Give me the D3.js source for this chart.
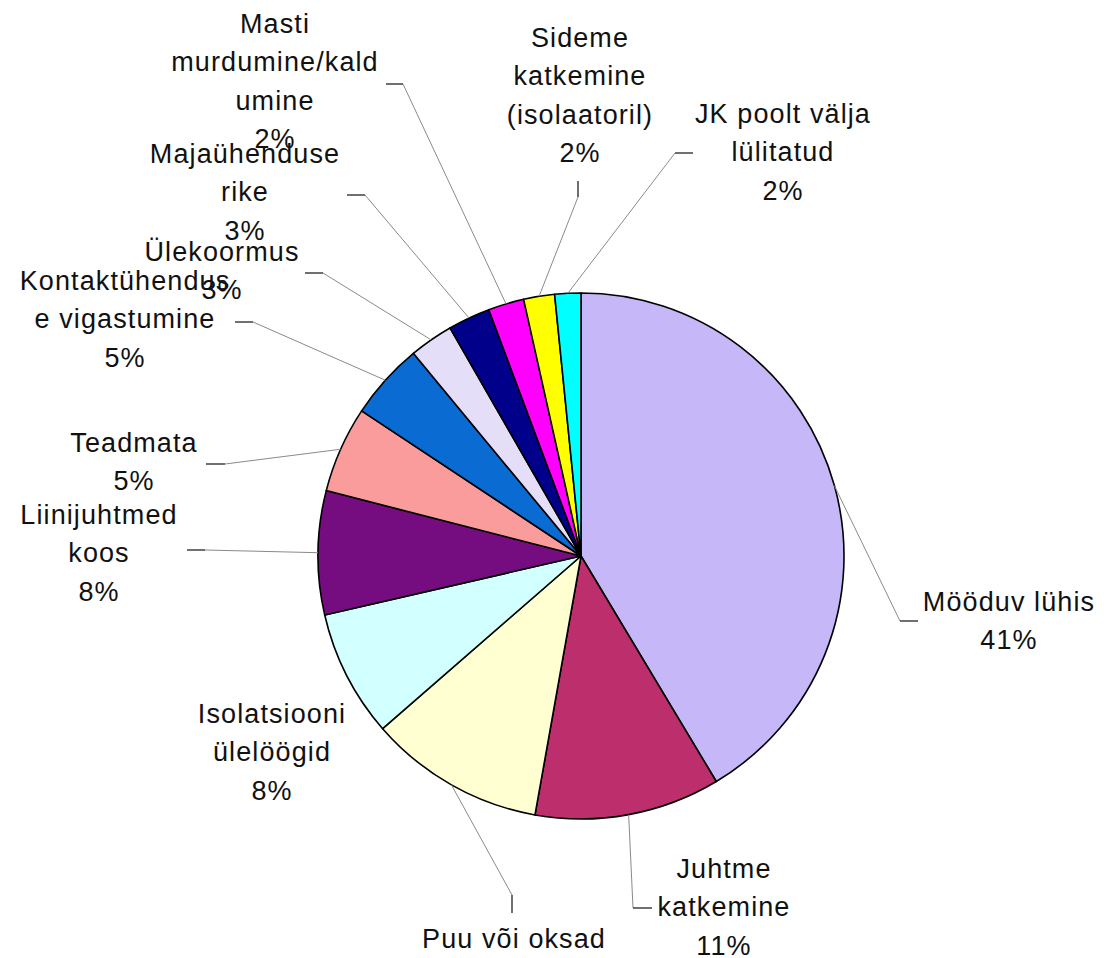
<!DOCTYPE html>
<html>
<head>
<meta charset="utf-8">
<script src="https://cdn.jsdelivr.net/npm/d3@7/dist/d3.min.js"></script>
<style>
  html, body { margin: 0; padding: 0; background: #ffffff; }
  svg { display: block; }
  text { font-family: "Liberation Sans", Arial, sans-serif; font-size: 27px; fill: #111; letter-spacing: 1.1px; }
</style>
</head>
<body>
<svg id="chart" width="1107" height="958"></svg>
<script>
// Rikete põhjused (osakaal, %)
const categories = [
  "Mööduv lühis",
  "Juhtme katkemine",
  "Puu või oksad",
  "Isolatsiooni ülelöögid",
  "Liinijuhtmed koos",
  "Teadmata",
  "Kontaktühendus e vigastumine",
  "Ülekoormus",
  "Majaühenduse rike",
  "Masti murdumine/kaldumine",
  "Sideme katkemine (isolaatoril)",
  "JK poolt välja lülitatud"
];
const values = [41.4, 11.4, 10.8, 7.8, 7.6, 5.3, 4.7, 2.7, 2.6, 2.2, 1.9, 1.6];

// Label text as wrapped lines (percent line is added from the value)
const labelLines = [
  ["Mööduv lühis"],
  ["Juhtme", "katkemine"],
  ["Puu või oksad"],
  ["Isolatsiooni", "ülelöögid"],
  ["Liinijuhtmed", "koos"],
  ["Teadmata"],
  ["Kontaktühendus", "e vigastumine"],
  ["Ülekoormus"],
  ["Majaühenduse", "rike"],
  ["Masti", "murdumine/kald", "umine"],
  ["Sideme", "katkemine", "(isolaatoril)"],
  ["JK poolt välja", "lülitatud"]
];

const colors = [
  "#c6b8f8", "#bd2e6c", "#ffffd2", "#d2ffff", "#750d80", "#fa9c9c",
  "#0a6cd2", "#e4def8", "#00008a", "#ff00ff", "#ffff00", "#00ffff"
];

// Layout: pie geometry, label placement and leader-line elbows
const cx = 581, cy = 556, radius = 263, lineGap = 38.4;
const labelPos = [
  [1009, 611], [724, 878], [514, 948], [272, 723], [99, 524], [134, 452],
  [125, 290], [222, 261], [245, 163], [275, 33], [580, 47], [783, 123]
];
// [elbow, tick end] for each leader line (null = no leader)
const leaders = [
  [[900, 621], [918, 621]],
  [[633, 908], [652, 908]],
  [[512, 895], [512, 913]],
  null,
  [[205, 550], [187, 550]],
  [[225, 464], [206, 464]],
  [[253, 322], [235, 322]],
  [[323, 273], [305, 273]],
  [[365, 195], [347, 195]],
  [[403, 84], [386, 84]],
  [[578, 197], [578, 181]],
  [[675, 153], [693, 153]]
];

const svg = d3.select("#chart");
const g = svg.append("g").attr("transform", `translate(${cx},${cy})`);

const pie = d3.pie().sort(null).value(d => d)(values);
const arc = d3.arc().innerRadius(0).outerRadius(radius);
const edge = d3.arc().innerRadius(radius).outerRadius(radius);

g.selectAll("path.slice")
  .data(pie)
  .join("path")
  .attr("class", "slice")
  .attr("d", arc)
  .attr("fill", (d, i) => colors[i])
  .attr("stroke", "#000")
  .attr("stroke-width", 1.6)
  .attr("stroke-linejoin", "round");

// Leader lines from the slice edge to each label
const leaderData = pie.map((d, i) => ({ d, l: leaders[i] })).filter(o => o.l);
svg.selectAll("path.leader")
  .data(leaderData)
  .join("path")
  .attr("class", "leader")
  .attr("fill", "none")
  .attr("stroke", "#8a8a8a")
  .attr("stroke-width", 1)
  .attr("d", o => {
    const [sx, sy] = edge.centroid(o.d);
    return d3.line()([[cx + sx, cy + sy], o.l[0]]);
  });
svg.selectAll("path.tick")
  .data(leaderData)
  .join("path")
  .attr("class", "tick")
  .attr("fill", "none")
  .attr("stroke", "#333")
  .attr("stroke-width", 1.4)
  .attr("d", o => d3.line()([o.l[0], o.l[1]]));

// Labels: category name lines and percentage
const labels = svg.selectAll("text.label")
  .data(pie)
  .join("text")
  .attr("class", "label")
  .attr("text-anchor", "middle")
  .attr("x", (d, i) => labelPos[i][0])
  .attr("y", (d, i) => labelPos[i][1]);

labels.each(function (d, i) {
  const total = d3.sum(values);
  const lines = labelLines[i].concat([Math.round(d.value / total * 100) + "%"]);
  d3.select(this).selectAll("tspan")
    .data(lines)
    .join("tspan")
    .attr("x", labelPos[i][0])
    .attr("dy", (t, k) => k === 0 ? 0 : lineGap)
    .text(t => t);
});
</script>
</body>
</html>
